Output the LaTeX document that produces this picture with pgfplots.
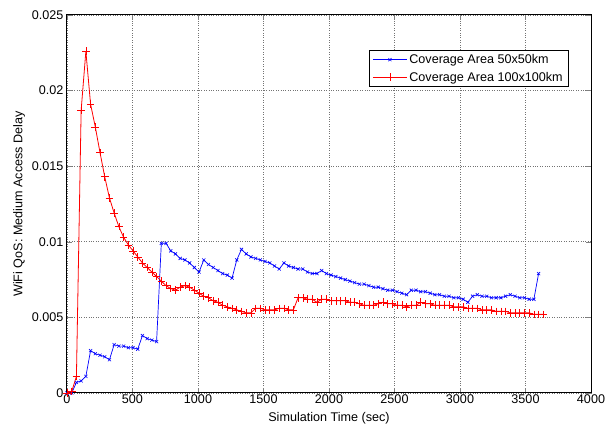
\documentclass[border=0pt]{standalone}
\usepackage{pgfplots}
\pgfplotsset{compat=1.18}
\usepackage{fontspec}
\setmainfont{Liberation Sans}

% longer line sample in the legend, marker in the middle
\pgfplotsset{
  legend image code/.code={%
    \draw[mark repeat=2, mark phase=2, #1]
      plot coordinates {(0pt,0pt) (17pt,0pt) (34pt,0pt)};},
}

% Medium access delay for the two coverage areas, sampled every 36 s
\pgfplotstableread{
t d
0 0
36 0
72 0.0007
108 0.0008
144 0.0011
180 0.0028
216 0.0026
252 0.0025
288 0.0024
324 0.0022
360 0.0032
396 0.0031
432 0.0031
468 0.0030
504 0.0030
540 0.0029
576 0.0038
612 0.0036
648 0.0035
684 0.0034
720 0.0099
756 0.0099
792 0.0094
828 0.0092
864 0.0089
900 0.0088
936 0.0086
972 0.0083
1008 0.0080
1044 0.0088
1080 0.0085
1116 0.0083
1152 0.0081
1188 0.0079
1224 0.0078
1260 0.0076
1296 0.0088
1332 0.0095
1368 0.0092
1404 0.0090
1440 0.0089
1476 0.0088
1512 0.0087
1548 0.0086
1584 0.0084
1620 0.0082
1656 0.0086
1692 0.0084
1728 0.0083
1764 0.0082
1800 0.0082
1836 0.0080
1872 0.0079
1908 0.0079
1944 0.0081
1980 0.0079
2016 0.0078
2052 0.0077
2088 0.0076
2124 0.0075
2160 0.0074
2196 0.0073
2232 0.0072
2268 0.0072
2304 0.0071
2340 0.0070
2376 0.0070
2412 0.0069
2448 0.0068
2484 0.0068
2520 0.0067
2556 0.0066
2592 0.0065
2628 0.0068
2664 0.0068
2700 0.0067
2736 0.0067
2772 0.0066
2808 0.0065
2844 0.0065
2880 0.0064
2916 0.0064
2952 0.0063
2988 0.0063
3024 0.0062
3060 0.0060
3096 0.0064
3132 0.0065
3168 0.0064
3204 0.0064
3240 0.0063
3276 0.0063
3312 0.0063
3348 0.0064
3384 0.0065
3420 0.0064
3456 0.0063
3492 0.0063
3528 0.0062
3564 0.0062
3600 0.0079
}\smallarea

\pgfplotstableread{
t d
0 0
36 0.0001
72 0.0011
108 0.0187
144 0.0226
180 0.0191
216 0.0176
252 0.0159
288 0.0143
324 0.0129
360 0.0119
396 0.0110
432 0.0103
468 0.0098
504 0.0094
540 0.0090
576 0.0086
612 0.0083
648 0.0080
684 0.0077
720 0.0074
756 0.0071
792 0.0069
828 0.0068
864 0.0070
900 0.0071
936 0.0070
972 0.0068
1008 0.0066
1044 0.0064
1080 0.0063
1116 0.0061
1152 0.0060
1188 0.0058
1224 0.0057
1260 0.0056
1296 0.0055
1332 0.0054
1368 0.0053
1404 0.0053
1440 0.0056
1476 0.0056
1512 0.0055
1548 0.0055
1584 0.0055
1620 0.0056
1656 0.0056
1692 0.0055
1728 0.0055
1764 0.0063
1800 0.0063
1836 0.0062
1872 0.0062
1908 0.0060
1944 0.0062
1980 0.0062
2016 0.0061
2052 0.0061
2088 0.0061
2124 0.0061
2160 0.0060
2196 0.0060
2232 0.0059
2268 0.0058
2304 0.0058
2340 0.0058
2376 0.0059
2412 0.0060
2448 0.0059
2484 0.0059
2520 0.0058
2556 0.0058
2592 0.0057
2628 0.0058
2664 0.0058
2700 0.0060
2736 0.0059
2772 0.0059
2808 0.0058
2844 0.0058
2880 0.0058
2916 0.0058
2952 0.0057
2988 0.0057
3024 0.0057
3060 0.0056
3096 0.0056
3132 0.0056
3168 0.0055
3204 0.0055
3240 0.0055
3276 0.0054
3312 0.0054
3348 0.0054
3384 0.0053
3420 0.0053
3456 0.0053
3492 0.0053
3528 0.0053
3564 0.0052
3600 0.0052
3636 0.0052
}\largearea

\begin{document}
\begin{tikzpicture}
\path[use as bounding box] (-67pt,-37pt) rectangle (538pt,393pt);
\begin{axis}[
  at={(0,0)}, anchor=south west,
  scale only axis, width=524pt, height=378pt,
  xmin=0, xmax=4000, ymin=0, ymax=0.025,
  xtick={0,500,...,4000},
  ytick={0,0.005,0.01,0.015,0.02,0.025},
  yticklabels={0,0.005,0.01,0.015,0.02,0.025},
  scaled y ticks=false,
  /pgf/number format/assume math mode=true,
  /pgf/number format/1000 sep={},
  tick label style={font=\fontsize{12.6}{14}\selectfont, black},
  xticklabel style={inner ysep=2pt},
  yticklabel style={inner xsep=3.5pt},
  label style={font=\fontsize{12.6}{14}\selectfont},
  xlabel={Simulation Time (sec)},
  ylabel={WiFi QoS: Medium Access Delay},
  xlabel style={at={(axis description cs:0.5,0)}, anchor=base, yshift=-29pt},
  ylabel style={at={(axis description cs:-0.0916,0.5)}, anchor=center},
  tick align=inside,
  xtick pos=both, ytick pos=both,
  major tick length=5pt,
  axis line style={line width=1pt},
  grid=major,
  major grid style={black!55, dotted, line width=0.6pt},
  legend cell align=left,
  legend style={at={(0.956,0.907)}, anchor=north east,
    font=\fontsize{12.6}{14}\selectfont,
    inner xsep=3pt, inner ysep=2pt, row sep=3pt},
]
\addplot[color=blue, line width=0.7pt, mark=x, mark size=2.2pt,
  mark options={line width=0.6pt}] table[x=t, y=d] {\smallarea};
\addlegendentry{Coverage Area 50x50km}
\addplot[color=red, line width=0.8pt, mark=+, mark size=3.8pt,
  mark options={line width=0.6pt}] table[x=t, y=d] {\largearea};
\addlegendentry{Coverage Area 100x100km}
\end{axis}
\end{tikzpicture}
\end{document}
